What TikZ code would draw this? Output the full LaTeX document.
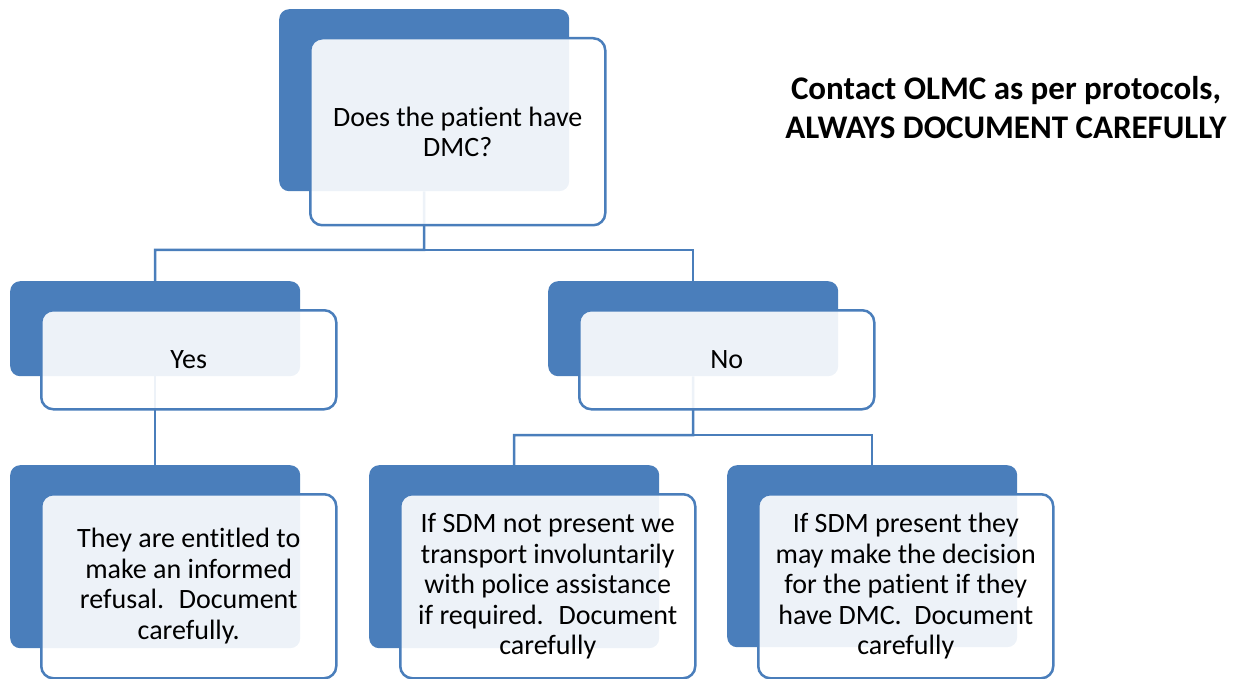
\documentclass[tikz,border=0pt]{standalone}
\usepackage{fontspec}
\setmainfont{Carlito}[Ligatures=CommonOff]
\usepackage{tikz}
\definecolor{smblue}{HTML}{4A7EBB}
\tikzset{
  backbox/.style={fill=smblue, rounded corners=10pt, anchor=north west, inner sep=0pt, minimum width=290pt},
  frontbox/.style={draw=smblue, line width=2.5pt, fill=white, fill opacity=0.9, text opacity=1, rounded corners=12pt,
    anchor=north west, inner sep=0pt, minimum width=295pt, align=center, font=\fontsize{28}{30.5}\selectfont},
  conn/.style={draw=smblue, line width=2.5pt}
}

\begin{document}
\begin{tikzpicture}[x=1pt,y=-1pt]
	\useasboundingbox (0,0) rectangle (1240,679);
	% back boxes first, connectors behind the front boxes
	\foreach \nm/\x/\y/\bh in {q/279/9/182, yes/10/281/95, no/548/281/95, refuse/10/465/183, invol/369/465/183, sdm/727/465/182}{
		\node[backbox, minimum height=\bh pt] (\nm-back) at (\x,\y) {};
	}
	\coordinate (bus1) at (424,250);
	\coordinate (bus2) at (693,435);
	\draw[conn] (q-back.south) -- (bus1) -| (yes-back.north);
	\draw[conn] (bus1) -| (no-back.north);
	\draw[conn] (yes-back.south) -- (refuse-back.north);
	\draw[conn] (no-back.south) -- (bus2) -| (invol-back.north);
	\draw[conn] (bus2) -| (sdm-back.north);
	\foreach \nm/\fh/\txt in {q/187/{Does the patient have\\DMC?}, yes/99/{Yes}, no/99/{No},
		refuse/184/{They are entitled to\\make an informed\\refusal.~ Document\\carefully.},
		invol/184/{If SDM not present we\\transport involuntarily\\with police assistance\\if required.~ Document\\carefully},
		sdm/184/{If SDM present they\\may make the decision\\for the patient if they\\have DMC.~ Document\\carefully}}{
		\node[frontbox, minimum height=\fh pt] (\nm) at ([shift={(30,28)}]\nm-back.north west) {\txt};
	}
	\node[align=center, font=\bfseries\fontsize{33}{39}\selectfont] (note) at (1006,108) {Contact OLMC as per protocols,\\ALWAYS DOCUMENT CAREFULLY};
\end{tikzpicture}
\end{document}
